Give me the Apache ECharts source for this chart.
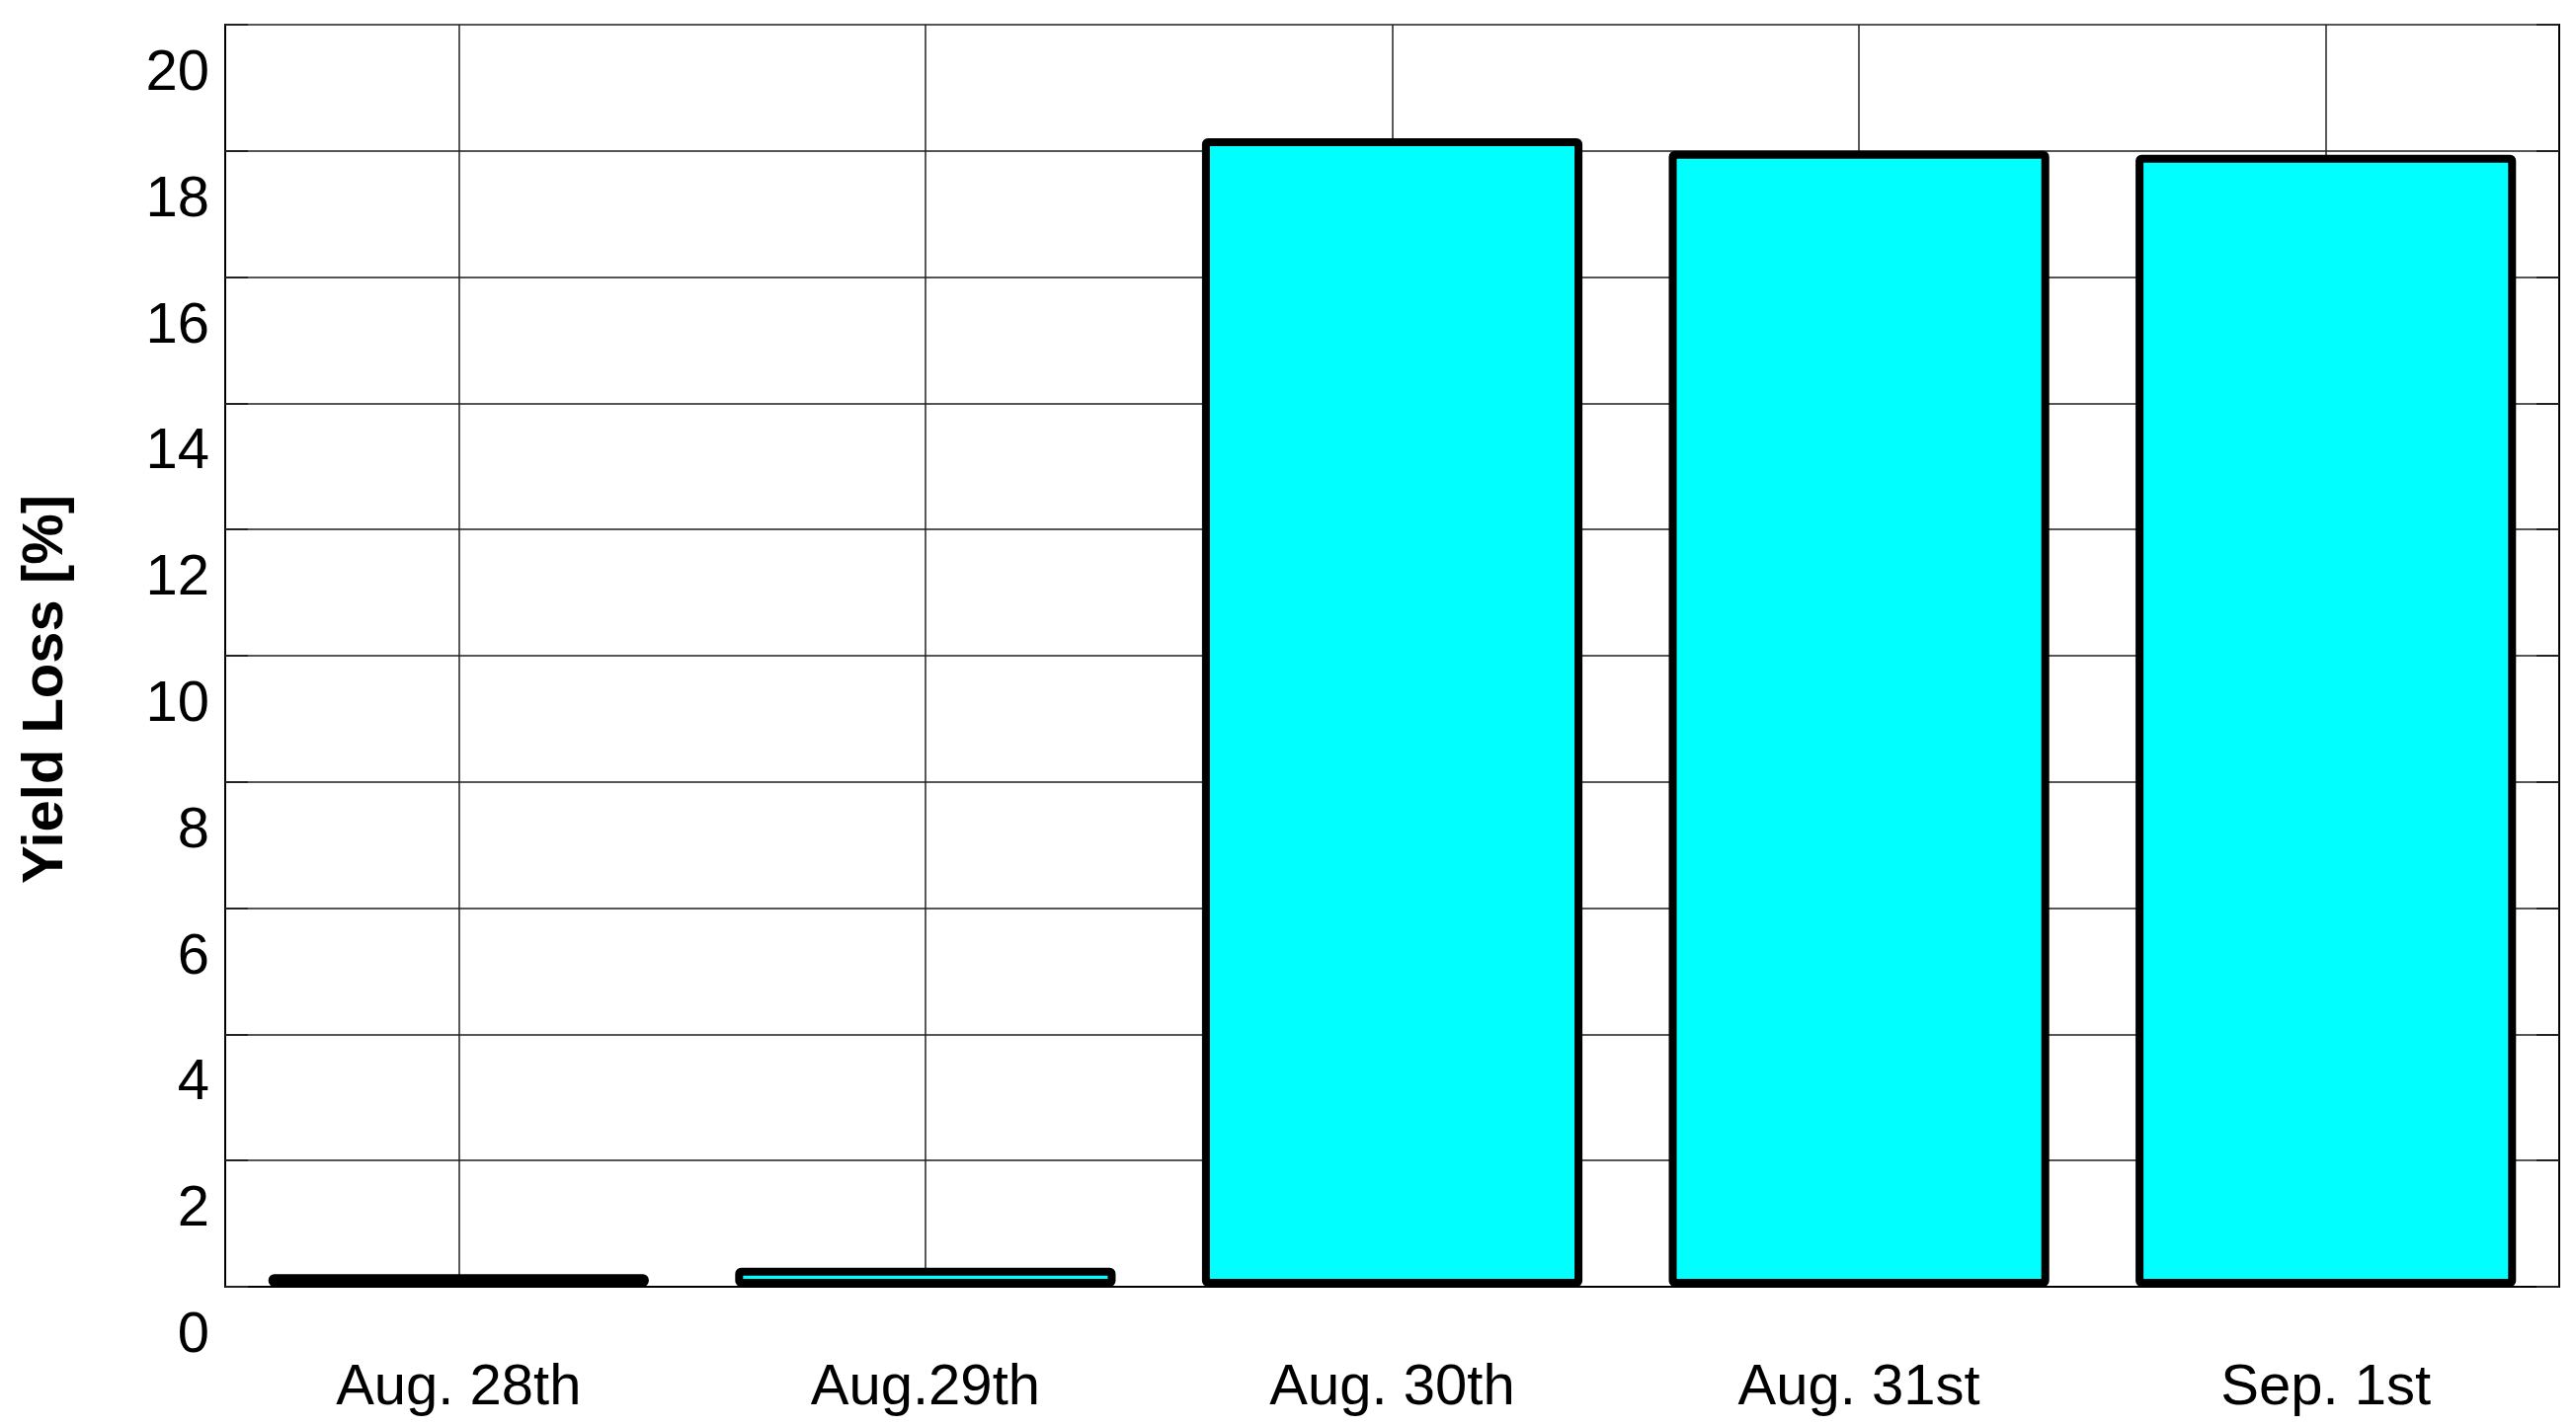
<!DOCTYPE html>
<html>
<head>
<meta charset="utf-8">
<title>Yield Loss</title>
<script src="https://cdn.jsdelivr.net/npm/echarts@6/dist/echarts.min.js"></script>
<style>
  html, body { margin: 0; padding: 0; background: #fff; }
  #chart { width: 2608px; height: 1444px; }
</style>
</head>
<body>
<div id="chart"></div>
<script>
// data
const days = ['Aug. 28th', 'Aug.29th', 'Aug. 30th', 'Aug. 31st', 'Sep. 1st']
const yieldLoss = [0.2, 0.3, 18.2, 18.0, 17.94]
const yTicks = [0, 2, 4, 6, 8, 10, 12, 14, 16, 18, 20]

const font = 'Liberation Sans, Arial, sans-serif'

const chart = echarts.init(document.getElementById('chart'))
chart.setOption({
  animation: false,
  backgroundColor: '#fff',
  grid: {
    left: 228,
    right: 17,
    top: 25,
    bottom: 141,
    show: true,
    borderColor: '#000',
    borderWidth: 2,
    backgroundColor: 'transparent'
  },
  xAxis: {
    type: 'category',
    data: days,
    axisLine: { lineStyle: { color: '#000', width: 2 } },
    axisTick: { show: false },
    axisLabel: {
      color: '#000',
      fontFamily: font,
      fontSize: 58,
      margin: 74
    },
    // grid lines through the middle of each category, like the source plot
    splitLine: {
      show: true,
      interval: 0,
      alignWithLabel: true,
      lineStyle: { color: '#222', width: 1.5 }
    }
  },
  yAxis: [{
    type: 'value',
    min: yTicks[0],
    max: yTicks[yTicks.length - 1],
    interval: 2,
    name: 'Yield Loss [%]',
    nameLocation: 'middle',
    nameRotate: 90,
    nameGap: 152,
    nameTextStyle: {
      color: '#000',
      fontFamily: font,
      fontSize: 58,
      fontWeight: 'bold',
      padding: [0, 68, 0, 0]
    },
    axisLine: { show: true, lineStyle: { color: '#000', width: 2 } },
    axisTick: { show: true, inside: true, length: 23, lineStyle: { color: '#222', width: 2 } },
    axisLabel: {
      color: '#000',
      fontFamily: font,
      fontSize: 58,
      margin: 16,
      // labels sit a bit under their grid line in the original
      verticalAlign: 'top',
      lineHeight: 100
    },
    splitLine: { show: true, lineStyle: { color: '#555', width: 2 } }
  }, {
    type: 'value',
    position: 'right',
    min: yTicks[0],
    max: yTicks[yTicks.length - 1],
    interval: 2,
    axisLine: { show: true, lineStyle: { color: '#000', width: 2 } },
    axisTick: { show: true, inside: true, length: 23, lineStyle: { color: '#222', width: 2 } },
    axisLabel: { show: false },
    splitLine: { show: false }
  }],
  series: [{
    name: 'Yield Loss',
    type: 'bar',
    data: yieldLoss,
    barWidth: '81.5%',
    itemStyle: {
      color: '#00ffff',
      borderColor: '#000',
      borderWidth: 8,
      borderRadius: 2
    }
  }]
})
</script>
</body>
</html>
